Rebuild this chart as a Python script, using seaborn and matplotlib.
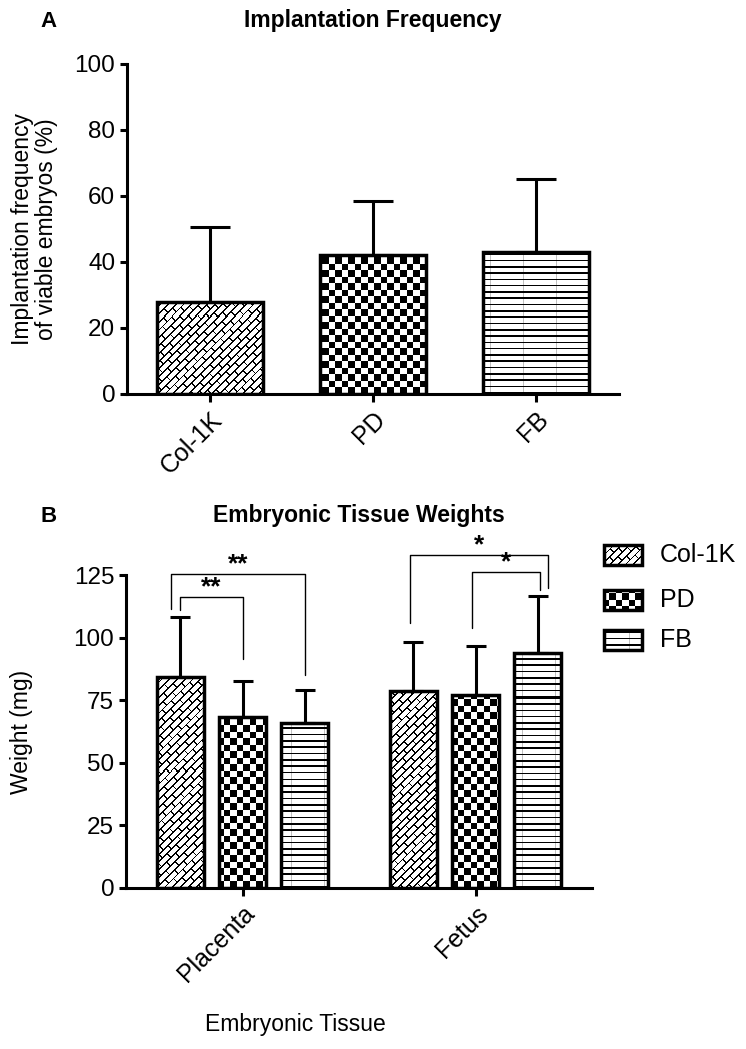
import numpy as np
import pandas as pd
import matplotlib
matplotlib.use("Agg")
import matplotlib.pyplot as plt
import seaborn as sns
from matplotlib.patches import Rectangle

# ---- data ----
freq_groups = ["Col-1K", "PD", "FB"]
freq_mean = [28.0, 42.0, 43.0]
freq_sd = [22.5, 16.5, 22.0]

tissues = ["Placenta", "Fetus"]
weight_col1k = [84.3, 78.5]
weight_pd = [68.1, 77.0]
weight_fb = [66.0, 94.0]
sd_col1k = [23.9, 19.6]
sd_pd = [14.6, 19.5]
sd_fb = [13.0, 22.7]

# significance brackets: tissue, left group, right group, left foot, right foot, top, label
brackets = [
    ("Placenta", "Col-1K", "FB", 111.5, 85.1, 125.5, "**"),
    ("Placenta", "Col-1K", "PD", 111.0, 91.4, 116.3, "**"),
    ("Fetus", "Col-1K", "FB", 106.0, 120.0, 132.9, "*"),
    ("Fetus", "PD", "FB", 104.0, 118.9, 126.3, "*"),
]

patterns = {"Col-1K": "brick", "PD": "check", "FB": "hline"}

W, H = 746, 1049
FS = 16.5       # axis titles
FS_Y = 17.5     # y tick labels
FS_X = 18       # rotated x tick labels
sns.set_theme(style="ticks")
plt.rcParams["font.family"] = ["Liberation Sans", "DejaVu Sans"]
plt.rcParams.update({
    "axes.linewidth": 2.2,
    "xtick.major.width": 2.2,
    "ytick.major.width": 2.2,
    "xtick.major.size": 6,
    "ytick.major.size": 5,
    "xtick.color": "black",
    "ytick.color": "black",
    "axes.edgecolor": "black",
    "axes.labelcolor": "black",
    "text.color": "black",
})


def pattern_image(kind, w, h):
    yy, xx = np.mgrid[0:h, 0:w].astype(float)
    if kind == "brick":
        u = (xx + yy) / np.sqrt(2)
        v = (yy - xx) / np.sqrt(2)
        bh, bl = 5.5, 13.0
        row = np.floor(v / bh)
        dark = ((v % bh) < 1.3) | (((u + (row % 2) * bl / 2) % bl) < 1.3)
        img = np.where(dark, 0.0, 1.0)
    elif kind == "check":
        s = 6.5
        dark = ((np.floor(xx / s) + np.floor(yy / s)) % 2) == 0
        img = np.where(dark, 0.0, 1.0)
    else:
        img = np.where((yy % 6.3) < 1.6, 0.0, 1.0)
        img = np.where((img > 0.5) & ((xx % 33) < 1), 0.75, img)
    return img


def fill_pattern(ax, patch, kind):
    w = int(round(ax.bbox.width))
    h = int(round(ax.bbox.height))
    im = ax.imshow(pattern_image(kind, w, h), cmap="gray", vmin=0, vmax=1,
                   origin="lower", extent=(0, 1, 0, 1), transform=ax.transAxes,
                   aspect="auto", interpolation="nearest", zorder=0.5)
    im.set_clip_path(patch)


def rotate_xticks(ax):
    for lab in ax.get_xticklabels():
        lab.set_rotation(45)
        lab.set_ha("right")
        lab.set_va("top")
        lab.set_rotation_mode("anchor")
        lab.set_fontsize(FS_X)


def px_axes(l, t, r, b):
    return fig.add_axes([l / W, 1 - b / H, (r - l) / W, (b - t) / H])


fig = plt.figure(figsize=(W / 100, H / 100), dpi=100)

# ---- panel A ----
axA = px_axes(127, 64, 619, 394)
df_a = pd.DataFrame({"group": freq_groups, "freq": freq_mean, "sd": freq_sd})
sns.barplot(data=df_a, x="group", y="freq", hue="group", palette=["white"] * 3,
            width=0.65, errorbar=None, legend=False, edgecolor="black",
            linewidth=2.5, ax=axA)
for cont, g in zip(axA.containers, freq_groups):
    for p in cont.patches:
        p.set_facecolor("none")
        p.set_zorder(2)
        fill_pattern(axA, p, patterns[g])
        x = p.get_x() + p.get_width() / 2
        sd = df_a.loc[df_a.group == g, "sd"].values
        axA.errorbar([x], [p.get_height()], yerr=[[0], sd], fmt="none",
                     ecolor="black", elinewidth=2.2, capsize=14.5, capthick=2.2,
                     zorder=1.5)
axA.set_xlim(-0.51, 2.51)
axA.set_ylim(0, 100)
axA.set_yticks(np.arange(0, 101, 20))
axA.set_xlabel("")
axA.set_ylabel("Implantation frequency\nof viable embryos (%)", fontsize=FS,
               linespacing=1.05)
axA.yaxis.set_label_coords(-0.14, 0.5)
axA.tick_params(axis="y", labelsize=FS_Y)
rotate_xticks(axA)
sns.despine(ax=axA)

# ---- panel B ----
axB = px_axes(126, 575, 592, 888)
df_b = pd.DataFrame({
    "tissue": tissues * 3,
    "group": np.repeat(freq_groups, len(tissues)),
    "weight": weight_col1k + weight_pd + weight_fb,
    "sd": sd_col1k + sd_pd + sd_fb,
})
sns.barplot(data=df_b, x="tissue", y="weight", hue="group", palette=["white"] * 3,
            gap=0.25, errorbar=None, legend=False, edgecolor="black",
            linewidth=2.5, ax=axB)
centers = {}
for cont, g in zip(axB.containers, freq_groups):
    for p, t in zip(cont.patches, tissues):
        p.set_facecolor("none")
        p.set_zorder(2)
        fill_pattern(axB, p, patterns[g])
        x = p.get_x() + p.get_width() / 2
        centers[(t, g)] = x
        sd = df_b.loc[(df_b.group == g) & (df_b.tissue == t), "sd"].values
        axB.errorbar([x], [p.get_height()], yerr=[[0], sd], fmt="none",
                     ecolor="black", elinewidth=2.2, capsize=7.5, capthick=2.2,
                     zorder=1.5)

nudge = {("Placenta", "Col-1K", "FB"): (-0.04, 0.0), ("Fetus", "Col-1K", "FB"): (-0.013, 0.045),
         ("Fetus", "PD", "FB"): (-0.013, 0.01)}
for t, ga, gb, fl, fr, top, lab in brackets:
    dl, dr = nudge.get((t, ga, gb), (0.0, 0.0))
    xl = centers[(t, ga)] + dl
    xr = centers[(t, gb)] + dr
    axB.plot([xl, xl, xr, xr], [fl, top, top, fr], color="black", lw=1.0,
             clip_on=False, zorder=3)
    axB.text((xl + xr) / 2, top - 1.0, lab, ha="center", va="bottom",
             fontsize=19, fontweight="bold", clip_on=False)

axB.set_xlim(-0.5, 1.5)
axB.set_ylim(0, 125)
axB.set_yticks(np.arange(0, 126, 25))
axB.set_ylabel("Weight (mg)", fontsize=FS)
axB.yaxis.set_label_coords(-0.2, 0.5)
axB.set_xlabel("Embryonic Tissue", fontsize=FS)
axB.xaxis.set_label_coords(0.363, -0.40)
axB.tick_params(axis="y", labelsize=FS_Y)
rotate_xticks(axB)
sns.despine(ax=axB)

# ---- legend (drawn by hand so the patterns match the bars) ----
legax = px_axes(596, 530, 746, 665)
legax.axis("off")
for g, yc in zip(freq_groups, [555, 600, 640]):
    r = Rectangle((604, yc - 10), 38, 20, facecolor="none", edgecolor="black",
                  linewidth=2.5, zorder=2)
    legax.add_patch(r)
    fill_pattern(legax, r, patterns[g])
    legax.text(660, yc, g, ha="left", va="center", fontsize=18)
legax.set_xlim(596, 746)
legax.set_ylim(665, 530)

# ---- titles ----
fig.text(373 / W, 1 - 27 / H, "Implantation Frequency", ha="center",
         va="baseline", fontsize=16.5, fontweight="bold")
fig.text(40 / W, 1 - 27 / H, "A", ha="left", va="baseline", fontsize=16,
         fontweight="bold")
fig.text(359 / W, 1 - 522 / H, "Embryonic Tissue Weights", ha="center",
         va="baseline", fontsize=16.5, fontweight="bold")
fig.text(40 / W, 1 - 522 / H, "B", ha="left", va="baseline", fontsize=16,
         fontweight="bold")

fig.savefig("out.png", dpi=100)
